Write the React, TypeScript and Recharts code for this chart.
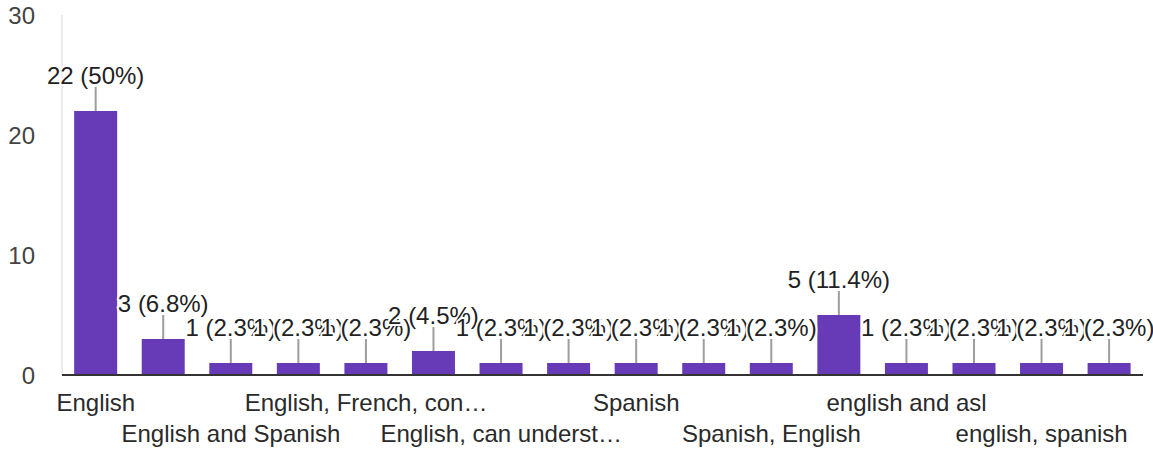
import React from "react";
import { BarChart, Bar, XAxis, YAxis, CartesianGrid, LabelList } from "recharts";

const categories = [
  "English",
  "English and French",
  "English and Spanish",
  "English, ASL",
  "English, French, conversational Spanish",
  "English, Spanish",
  "English, can understand Spanish",
  "French",
  "Spanish",
  "Spanish and English",
  "Spanish, English",
  "english",
  "english and asl",
  "english, asl",
  "english, spanish",
  "spanish",
];
const counts = [22, 3, 1, 1, 1, 2, 1, 1, 1, 1, 1, 5, 1, 1, 1, 1];
const yTicks = [0, 10, 20, 30];
const minorLines = [5, 15, 25];

const total = counts.reduce((a, b) => a + b, 0);
const data = categories.map((name, i) => ({ name, count: counts[i] }));

const FONT = "Arial, 'Liberation Sans', sans-serif";

function pct(v: number) {
  const p = Math.round((v / total) * 1000) / 10;
  return `${v} (${p}%)`;
}

function BarLabel(props: any) {
  const { x, y, width, value } = props;
  const cx = x + width / 2;
  return (
    <g>
      <line x1={cx} y1={y} x2={cx} y2={y - 24} stroke="#9e9e9e" strokeWidth={2} />
      <text
        x={cx}
        y={y - 27}
        textAnchor="middle"
        fontSize={24}
        fontFamily={FONT}
        fill="#222"
        stroke="#fff"
        strokeWidth={4}
        strokeLinejoin="round"
        style={{ paintOrder: "stroke" }}
      >
        {pct(value)}
      </text>
    </g>
  );
}

function XTick(props: any) {
  const { x, y, payload } = props;
  const i = payload.index;
  if (i % 2 !== 0) return null;
  const row = (i / 2) % 2;
  let label = String(payload.value);
  if (label.length > 20) label = label.slice(0, 20) + "…";
  return (
    <text
      x={x}
      y={y + 28 + row * 31}
      textAnchor="middle"
      fontSize={24}
      fontFamily={FONT}
      fill="#2a2a2a"
    >
      {label}
    </text>
  );
}

export default function App() {
  return (
    <div style={{ position: "fixed", left: 0, top: 0, background: "#fff" }}>
      <BarChart
        width={1153}
        height={454}
        data={data}
        margin={{ top: 15, right: 10, left: 0, bottom: 0 }}
        barCategoryGap="18%"
      >
        <CartesianGrid
          vertical={false}
          horizontalValues={minorLines}
          stroke="#f4f4f4"
          strokeWidth={2}
        />
        <CartesianGrid
          vertical={false}
          horizontalValues={yTicks}
          stroke="#ebebeb"
          strokeWidth={2}
        />
        <YAxis
          yAxisId="left"
          domain={[0, 30]}
          ticks={yTicks}
          width={62}
          tickLine={false}
          axisLine={{ stroke: "#ebebeb", strokeWidth: 2 }}
          tickMargin={21}
          tick={{ fontSize: 24, fontFamily: FONT, fill: "#444" }}
          interval={0}
        />
        <YAxis
          yAxisId="right"
          orientation="right"
          domain={[0, 30]}
          width={0}
          tick={false}
          tickLine={false}
          axisLine={{ stroke: "#ebebeb", strokeWidth: 2 }}
        />
        <XAxis
          dataKey="name"
          height={79}
          interval={0}
          tickLine={false}
          axisLine={{ stroke: "#333", strokeWidth: 2 }}
          tick={<XTick />}
        />
        <Bar yAxisId="left" dataKey="count" fill="#673ab7" isAnimationActive={false}>
          <LabelList dataKey="count" content={<BarLabel />} />
        </Bar>
      </BarChart>
    </div>
  );
}
